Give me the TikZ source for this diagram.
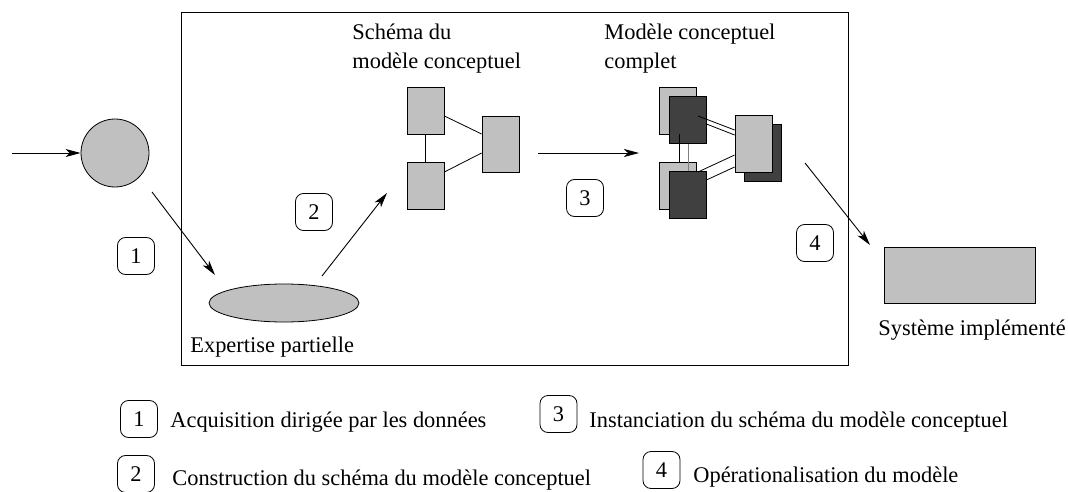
\documentclass[tikz,border=0pt]{standalone}
\usepackage{fontspec}
\setmainfont{Liberation Serif}
\usetikzlibrary{arrows.meta,shapes.geometric}
\definecolor{lg}{HTML}{C0C0C0}
\definecolor{dg}{HTML}{404040}
\begin{document}
\begin{tikzpicture}[x=1pt,y=-1pt,
  font=\fontsize{22.4}{26}\selectfont,
  line width=0.8pt,
  arr/.style={-{Stealth[length=15pt,width=8pt,inset=4pt]}, line width=0.9pt},
  numbox/.style={draw, rounded corners=8pt, minimum width=37pt, minimum height=37pt, inner sep=0pt},
  gbox/.style={draw, fill=lg, minimum width=37pt, minimum height=47pt, inner sep=0pt},
  dbox/.style={draw, fill=dg, minimum width=37pt, minimum height=47pt, inner sep=0pt},
  lbl/.style={anchor=base west, inner sep=0pt}]
\useasboundingbox (0,0) rectangle (1068,492);
% frame
\draw (181,12) rectangle (848,365);
% source circle
\coordinate (in) at (12,153);
\node[circle, draw, fill=lg, minimum size=68pt, inner sep=0pt] (src) at (115,153) {};
\draw[arr] (in) -- (src);
% expertise
\node[ellipse, draw, fill=lg, minimum width=150pt, minimum height=38pt, inner sep=0pt] (exp) at (284,303) {};
\node[lbl] (explbl) at (190,352) {Expertise partielle};
\coordinate (a1s) at (152,192);
\coordinate (a1e) at (215,275);
\draw[arr] (a1s) -- (a1e);
\node[numbox] (n1) at (136,256) {1};
\coordinate (a2s) at (322,276);
\coordinate (a2e) at (387,193);
\draw[arr] (a2s) -- (a2e);
\node[numbox] (n2) at (314,212) {2};
% schema
\node[lbl] (s1) at (352,40) {Schéma du};
\node[lbl] (s2) at (352,68.5) {modèle conceptuel};
\node[gbox] (stl) at (425.5,110.5) {};
\node[gbox] (sbl) at (425.5,185.5) {};
\node[gbox, minimum height=56pt] (sr) at (500.5,144) {};
\draw (stl.south) -- (sbl.north);
\draw (stl.east |- 0,116) -- (sr.west |- 0,134);
\draw (sbl.east |- 0,172) -- (sr.west |- 0,153);
% arrow 3
\coordinate (a3s) at (538,153);
\coordinate (a3e) at (639,153);
\draw[arr] (a3s) -- (a3e);
\node[numbox] (n3) at (585,198) {3};
% complete model
\node[lbl] (c1) at (604,40) {Modèle conceptuel};
\node[lbl] (c2) at (604,68.5) {complet};
\node[gbox] (ctl) at (678,110.5) {};
\node[dbox] (dtl) at (687.5,120) {};
\node[gbox] (cbl) at (678,185.5) {};
\node[dbox] (dbl) at (687.5,195) {};
\node[dbox, minimum height=57pt] (dr) at (763,152.5) {};
\node[gbox, minimum height=57pt] (cr) at (753.5,143.5) {};
\draw (ctl.south -| 679,0) -- (cbl.north -| 679,0);
\draw[gray] (dtl.south -| 688,0) -- (dbl.north -| 688,0);
\draw (698,116) -- (cr.west |- 0,130);
\draw (dtl.east |- 0,124) -- (cr.west |- 0,135);
\draw (698,172) -- (cr.west |- 0,155);
\draw (dbl.east |- 0,180) -- (cr.west |- 0,167);
% arrow 4
\coordinate (a4s) at (805,163);
\coordinate (a4e) at (870,245);
\draw[arr] (a4s) -- (a4e);
\node[numbox] (n4) at (815,243) {4};
% system
\node[draw, fill=lg, minimum width=151pt, minimum height=56pt, inner sep=0pt] (sys) at (959.5,275) {};
\node[lbl] (syslbl) at (878,335) {Système implémenté};
% legend
\node[numbox] (l1) at (139,419) {1};
\node[lbl] (t1) at (170,427) {Acquisition dirigée par les données};
\node[numbox] (l2) at (136,474) {2};
\node[lbl] (t2) at (172,485) {Construction du schéma du modèle conceptuel};
\node[numbox] (l3) at (558.5,414) {3};
\node[lbl] (t3) at (589,427) {Instanciation du schéma du modèle conceptuel};
\node[numbox] (l4) at (661.5,470) {4};
\node[lbl] (t4) at (693,482) {Opérationalisation du modèle};
\end{tikzpicture}
\end{document}
